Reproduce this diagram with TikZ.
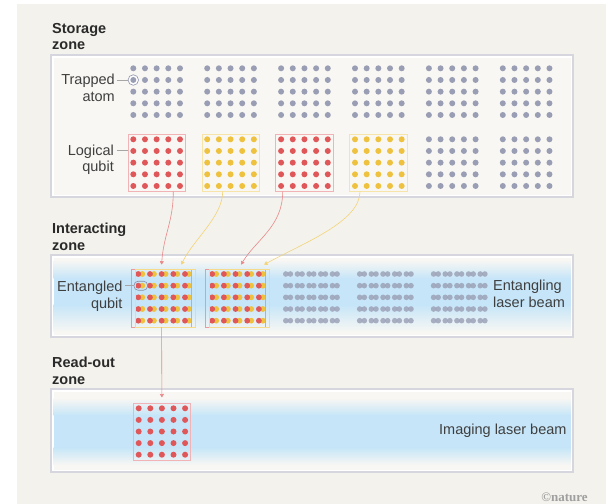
\documentclass[tikz,border=0pt]{standalone}
\usepackage{fontspec}
\setmainfont{Liberation Sans}
\newfontfamily\natfont{Liberation Serif}
\usepackage{tikz}
\usetikzlibrary{arrows.meta,calc}
\definecolor{pagebg}{HTML}{F3F2EC}
\definecolor{zonebg}{HTML}{F8F7F3}
\definecolor{zoneline}{HTML}{D5D6DE}
\definecolor{beam}{HTML}{C6E5F8}
\definecolor{atomgray}{HTML}{999EB4}
\definecolor{qred}{HTML}{E0575A}
\definecolor{qyel}{HTML}{EEC23E}
\definecolor{ink}{HTML}{2A2A2A}

\begin{document}
\begin{tikzpicture}[x=1pt,y=-1pt,>={Triangle[width=4pt,length=3.5pt]},
  font=\fontsize{14.5}{16.5}\selectfont,
  zone/.style={draw=zoneline,line width=1.4pt,fill=white},
  title/.style={anchor=west,align=left,inner sep=0,text=ink,font=\fontsize{14.5}{16.5}\selectfont\bfseries},
  lbl/.style={inner sep=0,text=ink!90},
  pointer/.style={draw=gray!70,line width=.7pt},
  qbox/.style={draw=#1!45,line width=.6pt,minimum width=57.4pt,minimum height=57.4pt,inner sep=0},
  ebox/.style={draw=#1!60,line width=.6pt,minimum width=60pt,minimum height=58pt,inner sep=0},
  link/.style={->,draw=#1!70,line width=.6pt}]
 \fill[white] (0,0) rectangle (606,504);
 \fill[pagebg] (17,4) rectangle (606,504);
 % the three zones
 \foreach \t/\b in {55/197,255/337,389/472} { \draw[zone] (51,\t) rectangle (573,\b); \fill[zonebg] (53.5,\t+2.5) rectangle (570.5,\b-2.5); }
 \shade[top color=zonebg,bottom color=beam] (53.5,260) rectangle (570.5,278.5);
 \fill[beam] (53.5,278) rectangle (570.5,305);
 \shade[top color=beam,bottom color=zonebg] (53.5,304.5) rectangle (570.5,332);
 \shade[top color=zonebg,bottom color=beam] (53.5,398) rectangle (570.5,415.5);
 \fill[beam] (53.5,415) rectangle (570.5,448);
 \shade[top color=beam,bottom color=zonebg] (53.5,447.5) rectangle (570.5,465);
 % storage zone
 \node[circle,draw=atomgray,fill=white,line width=.7pt,minimum size=10.5pt,inner sep=0] (ring) at (133.3,80) {};
 \foreach \g in {0,...,5} \foreach \i in {0,...,4} \foreach \j in {0,...,4}
  \fill[atomgray] ({133.3+73.9*\g+11.67*\i},{68.3+11.67*\j}) circle (3);
 \foreach \g/\c in {0/qred,1/qyel,2/qred,3/qyel,4/atomgray,5/atomgray} \foreach \i in {0,...,4} \foreach \j in {0,...,4}
  \fill[\c] ({133.3+73.9*\g+11.67*\i},{139.3+11.67*\j}) circle (3);
 \foreach \g/\c/\n in {0/qred/s1,1/qyel/s2,2/qred/s3,3/qyel/s4} \node[qbox=\c] (\n) at ({156.6+73.9*\g},162.6) {};
 % interacting zone
 \foreach \g in {0,1} \foreach \i in {0,...,4} \foreach \j in {0,...,4} {
  \fill[qyel] ({142.3+73.9*\g+11.67*\i},{274+11.67*\j}) circle (2.9);
  \fill[qred] ({138.3+73.9*\g+11.67*\i},{274+11.67*\j}) circle (2.9); }
 \foreach \g in {2,3,4} \foreach \i in {0,...,4} \foreach \j in {0,...,4} {
  \fill[atomgray,fill opacity=.8] ({138+73.9*\g+11.67*\i},{274+11.67*\j}) circle (2.8);
  \fill[atomgray,fill opacity=.8] ({142.6+73.9*\g+11.67*\i},{274+11.67*\j}) circle (2.8); }
 \foreach \g/\a/\b in {0/e1r/e1y,1/e2r/e2y} { \node[ebox=qred] (\a) at ({161.6+73.9*\g},298) {}; \node[ebox=qyel] (\b) at ({165.6+73.9*\g},298) {}; }
 \node[draw=atomgray!90!black,rounded corners=4pt,line width=.6pt,minimum width=13.5pt,minimum height=9pt,inner sep=0] (epair) at (140.8,285.7) {};
 % read-out zone
 \foreach \i in {0,...,4} \foreach \j in {0,...,4} \fill[qred] ({138.7+11.6*\i},{408.3+11.6*\j}) circle (3);
 \node[qbox=qred] (r1) at (161.9,431.5) {};
 % moves between zones
 \draw[link=qred] ([xshift=16.7pt]s1.south) .. controls +(0,30) and +(2,-30) .. ([yshift=4pt]e1r.north);
 \draw[link=qyel] ([xshift=-7.8pt]s2.south) .. controls +(0,25) and +(12,-25) .. ([xshift=15.7pt,yshift=4pt]e1y.north);
 \draw[link=qred] ([xshift=-21.7pt]s3.south) .. controls +(0,35) and +(15,-25) .. ([xshift=5.5pt,yshift=4pt]e2r.north);
 \draw[link=qyel] ([xshift=-18.3pt]s4.south) .. controls +(0,30) and +(40,-22) .. ([xshift=24.5pt,yshift=4pt]e2y.north);
 \draw[link=qred] (e1r.south) -- ([yshift=5pt]r1.north);
 % texts
 \node[title] (tstore) at (52,36.4) {Storage\\zone};
 \node[title] (tinter) at (52,236.9) {Interacting\\zone};
 \node[title] (tread) at (52,371) {Read-out\\zone};
 \node[lbl,anchor=east,align=right] (trap) at (115,87.6) {Trapped\\atom};
 \draw[pointer] (ring.west) -- ([xshift=2pt]ring.west -| trap.east);
 \node[lbl,anchor=east,align=right] (logq) at (114,159.6) {Logical\\qubit};
 \draw[pointer] ([yshift=12pt]s1.west) coordinate (lqa) -- ([xshift=3pt]lqa -| logq.east);
 \node[lbl,anchor=east,align=right] (entq) at (122.7,296.2) {Entangled\\qubit};
 \draw[pointer] (epair.west) -- ([xshift=2pt]epair.west -| entq.east);
 \node[lbl,anchor=west,align=left] (entl) at (493,294) {Entangling\\laser beam};
 \node[lbl,anchor=east] (imgl) at (566.7,431) {Imaging laser beam};
 \node[inner sep=0,text=gray!75,font=\natfont\bfseries\fontsize{13}{13}\selectfont] (nat) at (564.5,497) {©nature};
\end{tikzpicture}
\end{document}
